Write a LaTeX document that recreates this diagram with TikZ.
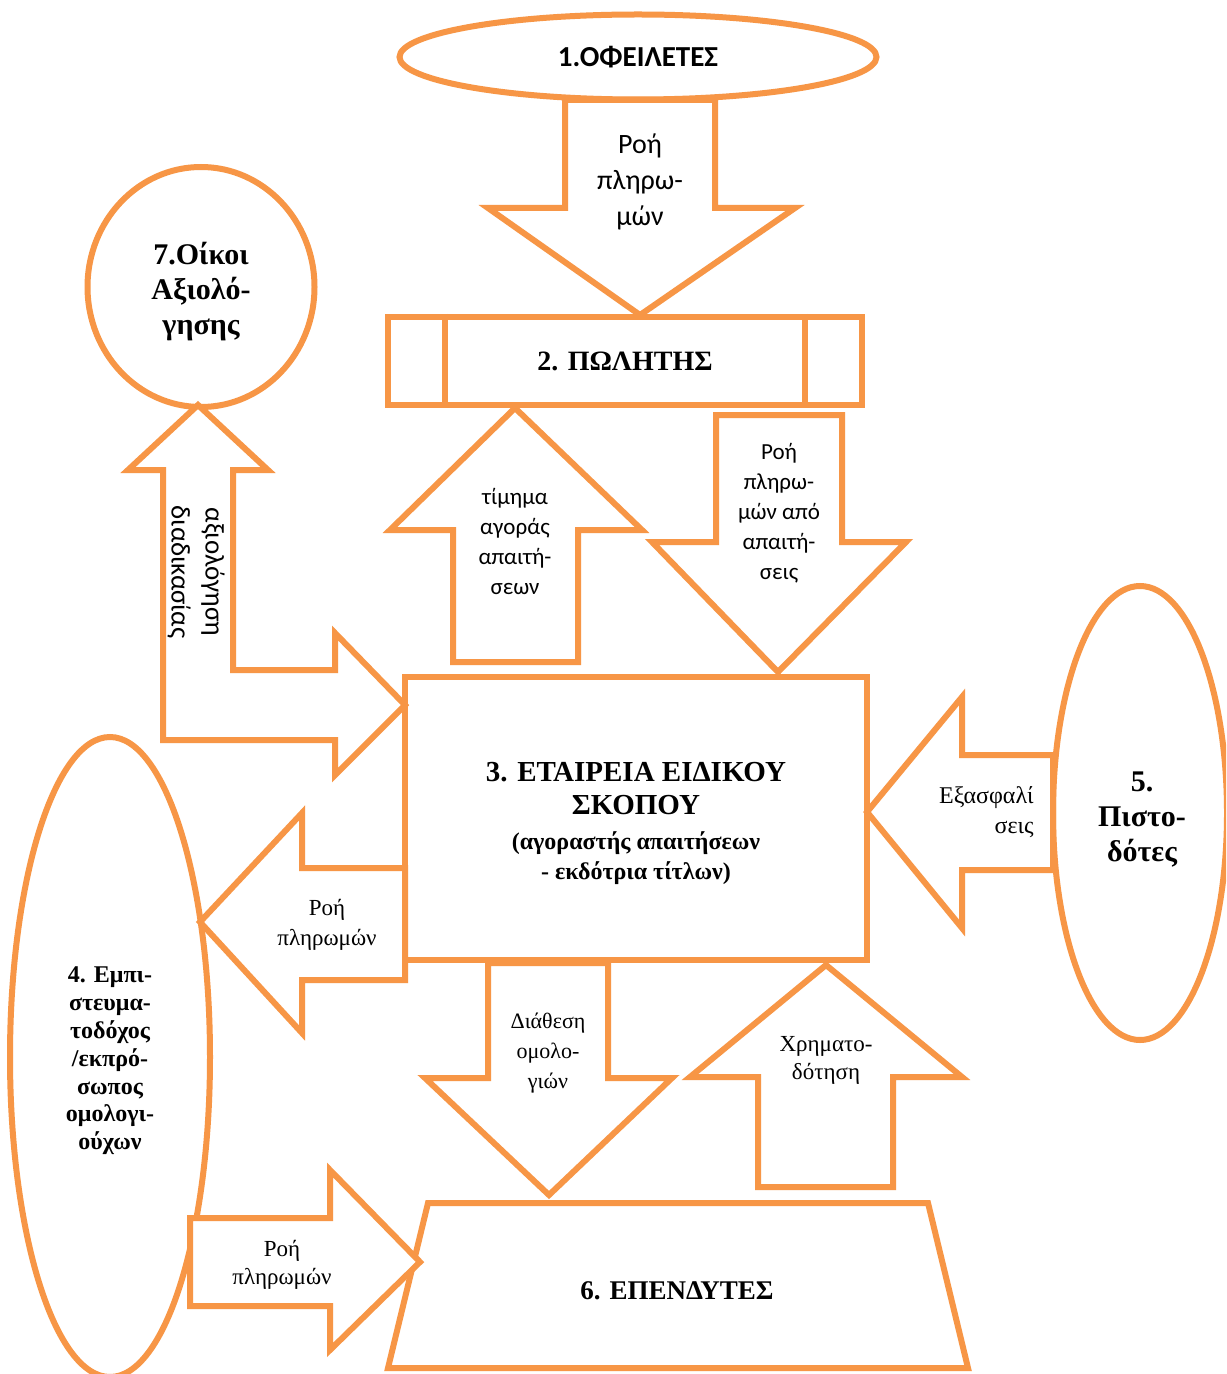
\documentclass[tikz,border=0pt]{standalone}
\usepackage{fontspec}
\setmainfont{Liberation Serif}
\newfontfamily\calf{Carlito}
\usetikzlibrary{shapes.geometric}
\definecolor{orng}{HTML}{F79646}
\newcommand\myfs[2]{\fontsize{#1}{#2}\selectfont}
\begin{document}
\begin{tikzpicture}[x=0.5pt,y=-0.5pt,
  shp/.style={draw=orng,line width=3pt,fill=white,line join=miter},
  lbl/.style={align=center,inner sep=0pt,text=black},
  ell/.style={shp,ellipse,inner sep=0pt,align=center},
  box/.style={shp,rectangle,inner sep=0pt}]
\path[use as bounding box,fill=white] (0,0) rectangle (1226,1374);
\clip (0,0) rectangle (1226,1374);

% entities
\node[ell,minimum width=238.5pt,minimum height=42.5pt,font=\calf\bfseries\myfs{14.5}{17}] (n1) at (638,57)
  {1.ΟΦΕΙΛΕΤΕΣ};
\node[box,minimum width=237pt,minimum height=44pt,font=\bfseries\myfs{14}{17}] (n2) at (625,361)
  {2. ΠΩΛΗΤΗΣ};
\draw[draw=orng,line width=3pt] ([xshift=30pt]n2.north west) -- ([xshift=30pt]n2.south west);
\draw[draw=orng,line width=3pt] ([xshift=-30pt]n2.north east) -- ([xshift=-30pt]n2.south east);
\node[ell,minimum width=113.5pt,minimum height=120pt] (n7) at (201,287) {};
\node[lbl,font=\bfseries\myfs{15}{17.5}] (n7t) at (201,292) {7.Οίκοι\\Αξιολό-\\γησης};
\node[box,minimum width=231pt,minimum height=141.5pt] (n3) at (636,818.5) {};
\node[lbl,font=\bfseries\myfs{14.5}{16.5}] (n3t) at (636,789) {3. ΕΤΑΙΡΕΙΑ ΕΙΔΙΚΟΥ\\ΣΚΟΠΟΥ};
\node[lbl,font=\bfseries\myfs{12}{15}] (n3s) at (636,858) {(αγοραστής απαιτήσεων\\- εκδότρια τίτλων)};
\node[ell,minimum width=87pt,minimum height=227pt] (n5) at (1140,813) {};
\node[lbl,font=\bfseries\myfs{15}{17.5}] (n5t) at (1142,820) {5.\\Πιστο-\\δότες};
\node[ell,minimum width=100pt,minimum height=320pt] (n4) at (110,1057) {};
\node[lbl,font=\bfseries\myfs{12}{13.9}] (n4t) at (110,1061) {4. Εμπι-\\στευμα-\\τοδόχος\\/εκπρό-\\σωπος\\ομολογι-\\ούχων};
\path[shp] (428,1203) -- (928,1203) -- (968,1368) -- (388,1368) -- cycle;
\node[lbl,font=\bfseries\myfs{13.5}{16}] (n6) at (677,1291) {6. ΕΠΕΝΔΥΤΕΣ};

% block arrows
\path[shp] (565,100) -- (715,100) -- (715,208) -- (795,208) -- (640,315) -- (488,208) -- (565,208) -- cycle;
\node[lbl,font=\calf\myfs{14}{18}] (a1) at (640,182) {Ροή\\πληρω-\\μών};

\path[shp] (515,408) -- (642,530) -- (578,530) -- (578,662) -- (453,662) -- (453,530) -- (390,530) -- cycle;
\node[lbl,font=\calf\myfs{11.5}{15}] (a2) at (515,541) {τίμημα\\αγοράς\\απαιτή-\\σεων};

\path[shp] (716,415) -- (842,415) -- (842,542) -- (906,542) -- (778,672) -- (652,542) -- (716,542) -- cycle;
\node[lbl,font=\calf\myfs{11.5}{15}] (a3) at (779,513) {Ροή\\πληρω-\\μών από\\απαιτή-\\σεις};

\path[shp] (198,405) -- (268,470) -- (233,470) -- (233,670) -- (335,670) -- (335,633) -- (405,705)
  -- (335,775) -- (335,740) -- (163,740) -- (163,470) -- (128,470) -- cycle;
\node[lbl,font=\calf\myfs{13.5}{17},rotate=-90] (a4) at (196,572) {αξιολόγηση\\διαδικασίας};

\path[shp] (1053,755) -- (962,755) -- (962,697) -- (867,812) -- (962,928) -- (962,870) -- (1053,870) -- cycle;
\node[lbl,align=right,anchor=east,font=\myfs{12}{15}] (a5) at (1034,812) {Εξασφαλί\\σεις};

\path[shp] (405,868) -- (302,868) -- (302,813) -- (200,922) -- (302,1033) -- (302,980) -- (405,980) -- cycle;
\node[lbl,font=\myfs{11.5}{15}] (a6) at (327,925) {Ροή\\πληρωμών};

\path[shp] (488,963) -- (608,963) -- (608,1078) -- (672,1078) -- (549,1195) -- (425,1078) -- (488,1078) -- cycle;
\node[lbl,font=\myfs{11}{15}] (a7) at (548,1053) {Διάθεση\\ομολο-\\γιών};

\path[shp] (826,965) -- (962,1077) -- (893,1077) -- (893,1187) -- (758,1187) -- (758,1077) -- (690,1077) -- cycle;
\node[lbl,font=\myfs{11.5}{14}] (a8) at (826,1060) {Χρηματο-\\δότηση};

\path[shp] (190,1218) -- (330,1218) -- (330,1170) -- (420,1262) -- (330,1350) -- (330,1306) -- (190,1306) -- cycle;
\node[lbl,font=\myfs{11.5}{14}] (a9) at (282,1265) {Ροή\\πληρωμών};
\end{tikzpicture}
\end{document}
